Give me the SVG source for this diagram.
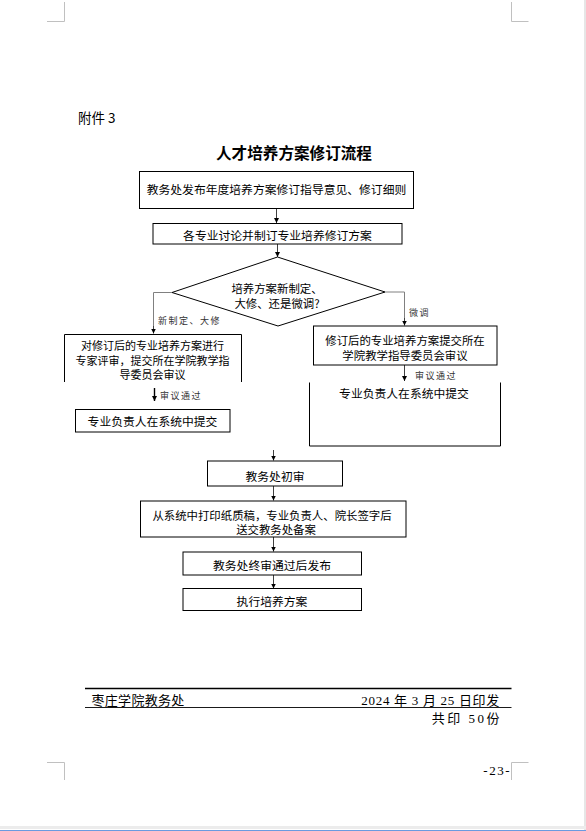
<svg xmlns="http://www.w3.org/2000/svg" width="586" height="831" viewBox="0 0 586 831">
<defs>
<marker id="ah" viewBox="0 0 10 10" refX="10" refY="5" markerWidth="5" markerHeight="5" markerUnits="userSpaceOnUse" orient="auto">
<path d="M0,0 L10,5 L0,10 z" fill="#000"/>
</marker>
<style>
.t{font-family:"Noto Sans CJK SC","Liberation Sans",sans-serif;font-size:11.8px;fill:#000;text-anchor:middle}
.m{font-size:11.4px}
.n{font-size:11px}
.s{font-family:"Noto Sans CJK SC","Liberation Sans",sans-serif;font-size:9px;fill:#333;letter-spacing:1.5px}
.f{font-family:"Liberation Serif","Noto Sans CJK SC",serif;font-size:13px;fill:#000}
.box{fill:#fff;stroke:#000;stroke-width:1}
.open{fill:none;stroke:#000;stroke-width:1}
.c{fill:none;stroke:#808080;stroke-width:1}
.a{fill:none;stroke:#404040;stroke-width:1;marker-end:url(#ah)}
.crop{fill:none;stroke:#c0c0c0;stroke-width:1}
</style>
</defs>
<rect width="586" height="831" fill="#fff"/>
<rect x="584" y="0" width="2" height="831" fill="#e6e6e6"/>
<rect x="0" y="826" width="586" height="3" fill="#ececec"/>
<line x1="0" y1="830.5" x2="586" y2="830.5" stroke="#6a9be0" stroke-width="1"/>

<g id="crop-marks">
<polyline class="crop" points="64.5,2 64.5,21.5 47,21.5"/>
<polyline class="crop" points="511.5,2 511.5,21.5 528.5,21.5"/>
<polyline class="crop" points="47,762.5 64.5,762.5 64.5,780"/>
<polyline class="crop" points="528.5,762.5 511.5,762.5 511.5,780"/>
</g>

<text x="78" y="123" style="font-family:'Noto Sans CJK SC','Liberation Sans',sans-serif;font-size:13.5px">附件 3</text>
<text x="294" y="158.5" style="font-family:'Noto Sans CJK SC','Liberation Sans',sans-serif;font-size:15.6px;font-weight:bold;text-anchor:middle">人才培养方案修订流程</text>

<g id="connectors">
<line class="a" x1="276.5" y1="208" x2="276.5" y2="223"/>
<line class="a" x1="277.5" y1="244" x2="277.5" y2="257"/>
<polyline class="c" points="172,292.5 153.5,292.5 153.5,328"/>
<line class="a" x1="153.5" y1="326" x2="153.5" y2="333.5"/>
<polyline class="c" points="385,292 404.5,292 404.5,320"/>
<line class="a" x1="404.5" y1="318" x2="404.5" y2="325.5"/>
<line x1="154.5" y1="388" x2="154.5" y2="401" stroke="#000" stroke-width="1.4" marker-end="url(#ah)"/>
<line class="a" x1="404.5" y1="365" x2="404.5" y2="381"/>
<line class="a" x1="273.5" y1="450" x2="273.5" y2="460.5"/>
<line class="a" x1="273.5" y1="486" x2="273.5" y2="500.5"/>
<line class="a" x1="273.5" y1="537" x2="273.5" y2="551.5"/>
<line class="a" x1="273.5" y1="575" x2="273.5" y2="588.5"/>
<text class="s" x="158" y="323.5">新制定、大修</text>
<text class="s" x="409" y="316">微调</text>
<text class="s" x="160" y="398.5">审议通过</text>
<text class="s" x="415" y="378.5">审议通过</text>
</g>

<g id="n1">
<rect class="box" x="139.5" y="171.5" width="274" height="37"/>
<text class="t" x="276.5" y="193.5">教务处发布年度培养方案修订指导意见、修订细则</text>
</g>
<g id="n2">
<rect class="box" x="153" y="223.5" width="249" height="20.5"/>
<text class="t" x="277.5" y="240">各专业讨论并制订专业培养修订方案</text>
</g>
<g id="n3">
<polygon class="box" points="277.5,257 385,292 278,326 172,292.5"/>
<text class="t m" x="277" y="293">培养方案新制定、</text>
<text class="t m" x="277" y="308">大修、还是微调?</text>
</g>
<g id="n4">
<polyline class="open" points="64.5,382 64.5,334.5 241.5,334.5 241.5,382"/>
<text class="t n" x="152.5" y="350">对修订后的专业培养方案进行</text>
<text class="t n" x="152.5" y="364.5">专家评审，提交所在学院教学指</text>
<text class="t n" x="152.5" y="379">导委员会审议</text>
</g>
<g id="n5">
<rect class="box" x="313.5" y="326" width="183.5" height="39"/>
<text class="t m" x="405" y="345">修订后的专业培养方案提交所在</text>
<text class="t m" x="405" y="359.5">学院教学指导委员会审议</text>
</g>
<g id="n6">
<rect class="box" x="75.5" y="409.5" width="154.5" height="22.5"/>
<text class="t" x="152.5" y="426">专业负责人在系统中提交</text>
</g>
<g id="n7">
<polyline class="open" points="309.5,382.5 309.5,446 500.5,446 500.5,382.5"/>
<text class="t" x="404" y="398">专业负责人在系统中提交</text>
</g>
<g id="n8">
<rect class="box" x="207.5" y="461" width="135" height="25"/>
<text class="t" x="275" y="480.5">教务处初审</text>
</g>
<g id="n9">
<rect class="box" x="140.5" y="501" width="265.5" height="36"/>
<text class="t m" x="272" y="519.5">从系统中打印纸质稿，专业负责人、院长签字后</text>
<text class="t m" x="276" y="534">送交教务处备案</text>
</g>
<g id="n10">
<rect class="box" x="183" y="552" width="178.5" height="23"/>
<text class="t" x="272" y="569.5">教务处终审通过后发布</text>
</g>
<g id="n11">
<rect class="box" x="183" y="588.5" width="178.5" height="22"/>
<text class="t" x="272" y="606">执行培养方案</text>
</g>

<g id="footer">
<line x1="85" y1="688.5" x2="511.5" y2="688.5" stroke="#000" stroke-width="1.3"/>
<line x1="85" y1="707.5" x2="511.5" y2="707.5" stroke="#000" stroke-width="0.9"/>
<text class="f" x="91.5" y="705" style="letter-spacing:0.3px">枣庄学院教务处</text>
<text class="f" x="500" y="705" text-anchor="end" style="letter-spacing:0.7px">2024 年 3 月 25 日印发</text>
<text class="f" x="502" y="723" text-anchor="end" style="letter-spacing:2.5px">共印 50份</text>
<text class="f" x="511" y="775" text-anchor="end" style="letter-spacing:1.5px">-23-</text>
</g>
</svg>
